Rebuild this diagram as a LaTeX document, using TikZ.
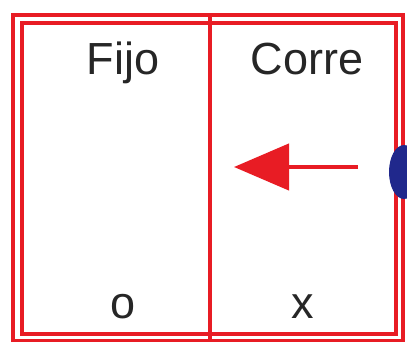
\documentclass[tikz,border=0pt]{standalone}
\usepackage{fontspec}
\setmainfont{Liberation Sans}
\usetikzlibrary{arrows.meta,shapes.geometric,positioning}
\definecolor{framered}{RGB}{232,28,36}
\definecolor{ballblue}{RGB}{32,40,140}

\begin{document}
\begin{tikzpicture}[
  x=1pt, y=-1pt,
  frame/.style={draw=framered, line width=3.6pt},
  lbl/.style={font=\fontsize{45}{54}\selectfont, text=black!85, inner sep=0pt, anchor=base},
  push/.style={-{Triangle[length=55pt,width=46pt]}, draw=framered, fill=framered, line width=4.5pt},
  font=\small
]
\useasboundingbox (0,0) rectangle (407,342);

% Double frame
\draw[frame] (13,15) rectangle (403,341);
\draw[frame] (22,23) rectangle (396,334);

% Divider between both halves
\draw[frame] (210,15) -- (210,341);

% Labels
\node[lbl] (fijo)  at (123,75)  {Fijo};
\node[lbl] (corre) at (307,75)  {Corre};
\node[lbl] (o)     at (123,318) {o};
\node[lbl] (x)     at (303,318) {x};

% Ball pushing from the right
\node[ellipse, fill=ballblue, minimum width=30pt, minimum height=54pt, inner sep=0pt] (ball) at (404,172) {};

% Arrow
\coordinate (arrowstart) at (358,167);
\coordinate (arrowend)   at (234,167);
\draw[push] (arrowstart) -- (arrowend);
\end{tikzpicture}
\end{document}
